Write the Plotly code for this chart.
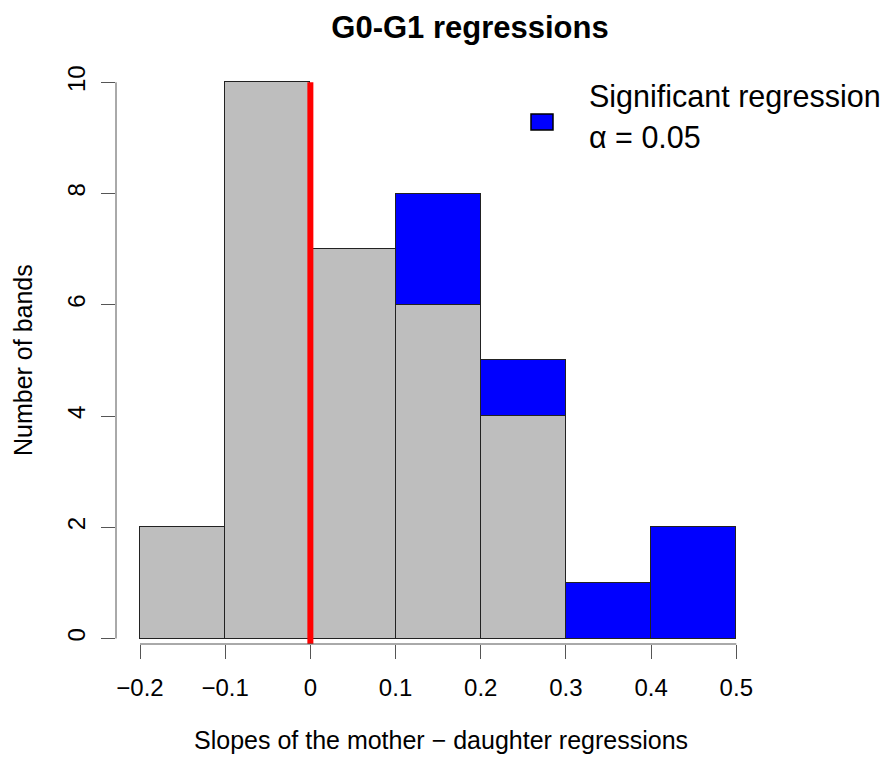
import plotly.graph_objects as go

# ---- data ----
bin_edges = [-0.2, -0.1, 0.0, 0.1, 0.2, 0.3, 0.4, 0.5]
nonsig_counts = [2, 10, 7, 6, 4, 0, 0]
sig_counts = [0, 0, 0, 2, 1, 1, 2]
x_tick_vals = [-0.2, -0.1, 0.0, 0.1, 0.2, 0.3, 0.4, 0.5]
x_tick_text = ["\u22120.2", "\u22120.1", "0", "0.1", "0.2", "0.3", "0.4", "0.5"]
y_tick_vals = [0, 2, 4, 6, 8, 10]
y_tick_text = ["0", "2", "4", "6", "8", "10"]
ref_line_x = 0.0
title_text = "<b>G0-G1 regressions</b>"
x_title = "Slopes of the mother \u2212 daughter regressions"
y_title = "Number of bands"
legend_lines = ["Significant regression", "\u03b1 = 0.05"]

FONT = "Liberation Sans, Arial, sans-serif"
OFF = 8  # page body margin
W, H = 895 - OFF, 758 - OFF
# plot area in page pixels
PX_L, PX_R, PX_T, PX_B = 116, 760, 70, 644
L, T = PX_L - OFF, PX_T - OFF
R, B = (895 - PX_R), (758 - PX_B)
PW, PH = W - L - R, H - T - B

# pixel calibration -> axis ranges (page pixels)
x_px_a, x_px_b = 140.0, 736.3   # pixels of -0.2 and 0.5
xs = (x_px_b - x_px_a) / (0.5 - (-0.2))
xmin = -0.2 - (x_px_a - PX_L) / xs
xmax = xmin + PW / xs
y_px0, y_px10 = 638.5, 82.3
ys = (y_px0 - y_px10) / 10.0
ymin = -(PX_B - y_px0) / ys
ymax = ymin + PH / ys

def px2paper_x(px):
    return (px - PX_L) / PW

def px2paper_y(py):
    return (PX_B - py) / PH

centers = [(bin_edges[i] + bin_edges[i + 1]) / 2 for i in range(len(bin_edges) - 1)]
widths = [bin_edges[i + 1] - bin_edges[i] for i in range(len(bin_edges) - 1)]

fig = go.Figure()
fig.add_trace(go.Bar(x=centers, y=nonsig_counts, width=widths,
                     marker=dict(color="#BEBEBE", line=dict(color="#222222", width=1)),
                     showlegend=False, hoverinfo="skip"))
fig.add_trace(go.Bar(x=centers, y=sig_counts, width=widths,
                     marker=dict(color="#0000FF", line=dict(color="#222222", width=1)),
                     showlegend=False, hoverinfo="skip"))

shapes = [
    dict(type="line", xref="x", yref="y", x0=ref_line_x, x1=ref_line_x, y0=ymin, y1=max(y_tick_vals),
         line=dict(color="#FF0000", width=6), layer="above"),
    dict(type="line", xref="x", yref="paper", x0=x_tick_vals[0], x1=x_tick_vals[-1], y0=0, y1=0,
         line=dict(color="#555555", width=1)),
    dict(type="line", xref="paper", yref="y", x0=0, x1=0, y0=y_tick_vals[0], y1=y_tick_vals[-1],
         line=dict(color="#555555", width=1)),
    dict(type="rect", xref="paper", yref="paper",
         x0=px2paper_x(531), x1=px2paper_x(553), y0=px2paper_y(130), y1=px2paper_y(114),
         fillcolor="#0000FF", line=dict(color="#000000", width=1.5)),
]

annotations = [
    dict(text=legend_lines[0], xref="paper", yref="paper", x=px2paper_x(587), y=px2paper_y(96.5),
         xanchor="left", yanchor="middle", showarrow=False, font=dict(family=FONT, size=30.5, color="#000")),
    dict(text=legend_lines[1], xref="paper", yref="paper", x=px2paper_x(587), y=px2paper_y(136.5),
         xanchor="left", yanchor="middle", showarrow=False, font=dict(family=FONT, size=30.5, color="#000")),
    dict(text=x_title, xref="paper", yref="paper", x=px2paper_x(441), y=px2paper_y(740),
         xanchor="center", yanchor="middle", showarrow=False, font=dict(family=FONT, size=25, color="#000")),
    dict(text=y_title, xref="paper", yref="paper", x=px2paper_x(23), y=px2paper_y(360),
         xanchor="center", yanchor="middle", textangle=-90, showarrow=False,
         font=dict(family=FONT, size=25, color="#000")),
]

fig.update_layout(
    width=W, height=H,
    margin=dict(l=L, r=R, t=T, b=B),
    paper_bgcolor="white", plot_bgcolor="white",
    barmode="stack", bargap=0,
    title=dict(text=title_text, x=(470 - OFF) / W, y=1 - (27.5 - OFF) / H, xref="container", yref="container",
               xanchor="center", yanchor="middle", font=dict(family=FONT, size=31, color="#000")),
    xaxis=dict(range=[xmin, xmax], tickvals=x_tick_vals, ticktext=x_tick_text,
               ticks="outside", ticklen=14, tickwidth=1, tickcolor="#555555",
               showgrid=False, zeroline=False, showline=False,
               tickfont=dict(family=FONT, size=24, color="#000"), ticklabelstandoff=8),
    yaxis=dict(range=[ymin, ymax], tickvals=y_tick_vals, ticktext=y_tick_text,
               ticks="outside", ticklen=14, tickwidth=1, tickcolor="#555555",
               showgrid=False, zeroline=False, showline=False, tickangle=-90,
               tickfont=dict(family=FONT, size=24, color="#000"), ticklabelstandoff=6),
    shapes=shapes, annotations=annotations,
)

fig.write_html("out.html")
